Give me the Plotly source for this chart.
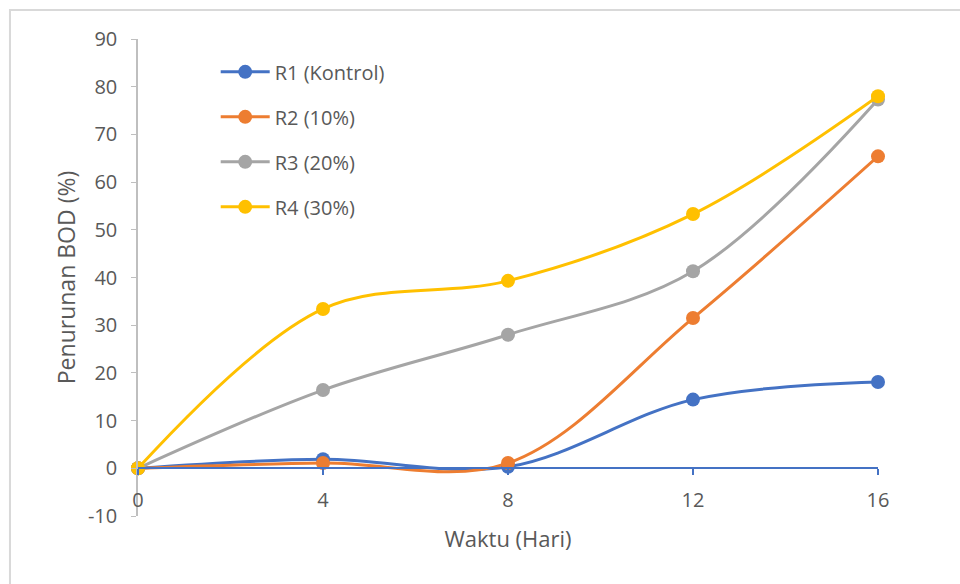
import plotly.graph_objects as go

# Sampling days and BOD reduction (%) per reactor
days = [0, 4, 8, 12, 16]
series_names = ["R1 (Kontrol)", "R2 (10%)", "R3 (20%)", "R4 (30%)"]
r1 = [0, 1.9, 0.3, 14.4, 18.1]
r2 = [0, 1.1, 1.1, 31.5, 65.4]
r3 = [0, 16.4, 28.0, 41.3, 77.3]
r4 = [0, 33.4, 39.3, 53.3, 78.0]
colors = ["#4472C4", "#ED7D31", "#A5A5A5", "#FFC000"]
y_ticks = [-10, 0, 10, 20, 30, 40, 50, 60, 70, 80, 90]
x_ticks = [0, 4, 8, 12, 16]

FONT = "Open Sans, Noto Sans, sans-serif"
TEXT = "#595959"

fig = go.Figure()
for name, vals, col in zip(series_names, [r1, r2, r3, r4], colors):
    fig.add_trace(go.Scatter(
        x=days, y=vals, name=name, mode="lines+markers",
        line=dict(color=col, width=3, shape="spline", smoothing=1),
        marker=dict(color=col, size=14),
        cliponaxis=False, legendgroup=name,
    ))

fig.update_layout(
    width=960, height=584,
    margin=dict(l=138, r=82, t=39, b=68),
    paper_bgcolor="white", plot_bgcolor="white",
    font=dict(family=FONT, color=TEXT, size=20),
    showlegend=True,
    legend=dict(
        x=0.105, y=0.972, xanchor="left", yanchor="top",
        bgcolor="rgba(0,0,0,0)", tracegroupgap=16,
        font=dict(size=20, color=TEXT), itemwidth=49,
    ),
    xaxis=dict(
        range=[0, 16], tickvals=x_ticks, ticktext=[str(v) for v in x_ticks],
        showgrid=False, zeroline=False,
        showline=True, linecolor="#4472C4", linewidth=2,
        ticks="outside", ticklen=6, tickwidth=2, tickcolor="#4472C4",
        tickfont=dict(size=20, color=TEXT), ticklabelstandoff=8,
        anchor="free", position=0.1,
        title=dict(text="Waktu (Hari)", font=dict(size=22, color=TEXT), standoff=18),
    ),
    yaxis=dict(
        range=[-10, 90], tickvals=y_ticks, ticktext=[str(v) for v in y_ticks],
        showgrid=False, zeroline=False,
        showline=True, linecolor="#BFBFBF", linewidth=1.5,
        ticks="outside", ticklen=5, tickcolor="#BFBFBF",
        tickfont=dict(size=20, color=TEXT), ticklabelstandoff=10,
        title=dict(text="Penurunan BOD (%)", font=dict(size=23, color=TEXT), standoff=6),
    ),
    shapes=[dict(
        type="rect", xref="paper", yref="paper",
        x0=-0.173, x1=1.3, y0=-0.3, y1=1.0608,
        line=dict(color="#D9D9D9", width=2), layer="below",
    )],
)

fig.write_html("out.html")
